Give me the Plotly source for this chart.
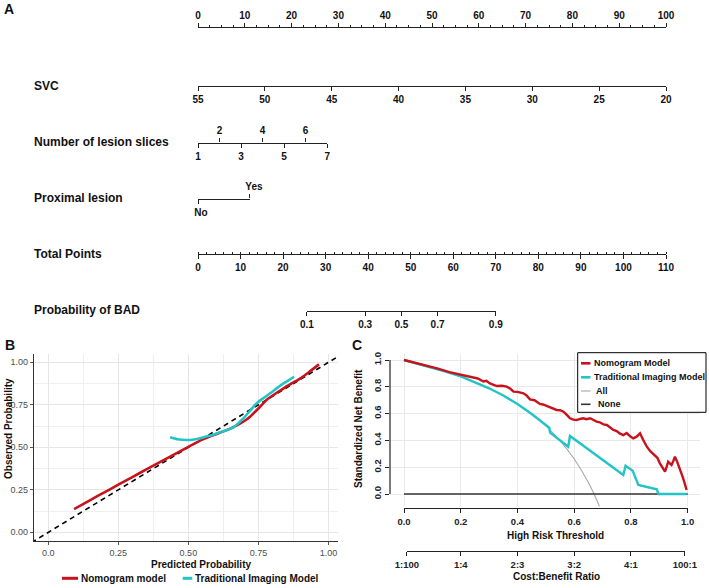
import plotly.graph_objects as go

W, H = 709, 588
FONT = "Liberation Sans, Arial, Helvetica, sans-serif"
AX = "#222222"
RED = "#c8121c"
CYAN = "#22c4c8"

# ---------------- data ----------------
# Panel A: nomogram
points_ticks = list(range(0, 101, 10))
svc_ticks = [55, 50, 45, 40, 35, 30, 25, 20]
slice_odd = [1, 3, 5, 7]
slice_even = [2, 4, 6]
slice_points_max = 27.6          # points for 7 slices (1 slice = 0 points)
proximal_levels = ["No", "Yes"]
proximal_points = [0.0, 11.1]
total_points_max = 110
prob_labels = ["0.1", "0.3", "0.5", "0.7", "0.9"]
prob_total_points = [25.6, 39.3, 47.8, 56.3, 70.0]

# Panel B: calibration curves
cal_nomo_x = [0.092, 0.15, 0.20, 0.25, 0.30, 0.35, 0.40, 0.45, 0.50, 0.55, 0.60, 0.65,
              0.70, 0.72, 0.756, 0.78, 0.81, 0.84, 0.87, 0.90, 0.93, 0.966]
cal_nomo_y = [0.137, 0.190, 0.235, 0.280, 0.325, 0.370, 0.414, 0.459, 0.503, 0.545, 0.578, 0.610,
              0.655, 0.680, 0.739, 0.780, 0.815, 0.847, 0.877, 0.906, 0.942, 0.988]
cal_trad_x = [0.435, 0.46, 0.494, 0.52, 0.542, 0.57, 0.601, 0.63, 0.661, 0.696, 0.72, 0.744,
              0.77, 0.792, 0.815, 0.839, 0.86, 0.877]
cal_trad_y = [0.559, 0.548, 0.543, 0.546, 0.553, 0.566, 0.582, 0.598, 0.618, 0.670, 0.715, 0.759,
              0.792, 0.818, 0.847, 0.876, 0.897, 0.915]
diag_x = [-0.06, 1.06]

# Panel C: decision curves
dca_nomo_x = [0.0, 0.04, 0.08, 0.12, 0.16, 0.19, 0.20, 0.225, 0.244, 0.26, 0.28, 0.29, 0.303,
              0.315, 0.327, 0.345, 0.362, 0.375, 0.386, 0.40, 0.421, 0.432, 0.444, 0.46, 0.479,
              0.49, 0.50, 0.514, 0.526, 0.538, 0.55, 0.562, 0.574, 0.585, 0.597, 0.609, 0.62,
              0.632, 0.643, 0.656, 0.668, 0.679, 0.69, 0.703, 0.715, 0.726, 0.738, 0.75, 0.76,
              0.773, 0.785, 0.797, 0.808, 0.82, 0.832, 0.844, 0.856, 0.868, 0.878, 0.885, 0.893,
              0.902, 0.912, 0.92, 0.926, 0.931, 0.937, 0.943, 0.95, 0.955, 0.962, 0.972, 0.982,
              0.99, 0.996]
dca_nomo_y = [1.0, 0.98, 0.958, 0.935, 0.91, 0.895, 0.893, 0.878, 0.871, 0.862, 0.840, 0.845, 0.825,
              0.818, 0.806, 0.808, 0.801, 0.785, 0.764, 0.762, 0.751, 0.735, 0.706, 0.700, 0.672,
              0.668, 0.660, 0.652, 0.640, 0.627, 0.625, 0.614, 0.590, 0.565, 0.555, 0.552, 0.560,
              0.565, 0.558, 0.565, 0.552, 0.540, 0.535, 0.520, 0.515, 0.500, 0.478, 0.470, 0.452,
              0.440, 0.455, 0.430, 0.415, 0.428, 0.453, 0.400, 0.353, 0.320, 0.300, 0.279, 0.270,
              0.229, 0.195, 0.167, 0.205, 0.241, 0.228, 0.216, 0.250, 0.279, 0.245, 0.192, 0.130,
              0.075, 0.030]
dca_trad_x = [0.0, 0.05, 0.1, 0.15, 0.2, 0.25, 0.3, 0.35, 0.4, 0.45, 0.479, 0.50, 0.512, 0.515,
              0.579, 0.585, 0.773, 0.781, 0.806, 0.826, 0.891, 0.897, 0.996]
dca_trad_y = [1.0, 0.972, 0.943, 0.912, 0.877, 0.836, 0.789, 0.735, 0.672, 0.597, 0.553, 0.515,
              0.495, 0.458, 0.353, 0.433, 0.142, 0.211, 0.174, 0.067, 0.035, 0.0, 0.0]
dca_all_x = [0.0, 0.05, 0.1, 0.15, 0.2, 0.25, 0.3, 0.35, 0.4, 0.45, 0.5, 0.55, 0.6, 0.65, 0.69, 0.70]
dca_all_y = [1.0, 0.974, 0.945, 0.913, 0.877, 0.836, 0.789, 0.735, 0.672, 0.597, 0.508, 0.398,
             0.261, 0.085, -0.096, -0.149]
dca_none_x = [0.0, 1.0]
dca_none_y = [0.0, 0.0]
thr_ticks = [0.0, 0.2, 0.4, 0.6, 0.8, 1.0]
cb_ticks = [0.01, 0.2, 0.4, 0.6, 0.8, 0.99]
cb_labels = ["1:100", "1:4", "2:3", "3:2", "4:1", "100:1"]


# ---------------- helpers ----------------
def px(x):
    return x / W


def py(y):
    return 1 - y / H


NOMO_X0, NOMO_X1 = 198.0, 666.0


def pts_px(p):
    return NOMO_X0 + p * (NOMO_X1 - NOMO_X0) / 100.0


def tot_px(t):
    return NOMO_X0 + t * (NOMO_X1 - NOMO_X0) / total_points_max


fig = go.Figure()
layout = dict(template="none", width=W, height=H, autosize=False,
              margin=dict(l=0, r=0, t=0, b=0, pad=0, autoexpand=False),
              paper_bgcolor="white", plot_bgcolor="rgba(0,0,0,0)", showlegend=False,
              font=dict(family=FONT, size=10, color="#111"))
annotations = []
shapes = []

NOMO_TICKFONT = dict(family=FONT, size=10, color="#111", weight="bold")


def strip_axis(idx, x0, x1, ypix, side, rng, tickfont=NOMO_TICKFONT, **kw):
    d = 0.0008
    ydom = [py(ypix), py(ypix) + d] if side == "bottom" else [py(ypix) - d, py(ypix)]
    xa = dict(domain=[px(x0), px(x1)], range=rng, anchor=f"y{idx}", side=side,
              showline=True, linecolor=AX, linewidth=1.2, ticks="outside", ticklen=4,
              tickwidth=1.1, tickcolor=AX, showgrid=False, zeroline=False, automargin=False,
              tickfont=tickfont, fixedrange=True)
    xa.update(kw)
    layout[f"xaxis{idx}"] = xa
    layout[f"yaxis{idx}"] = dict(domain=ydom, range=[0, 1], anchor=f"x{idx}", visible=False,
                                 automargin=False, fixedrange=True)
    fig.add_trace(go.Scatter(x=[None], y=[None], xaxis=f"x{idx}", yaxis=f"y{idx}",
                             mode="lines", showlegend=False, hoverinfo="skip"))


def label(text, x, y, size=10, anchor="left", angle=0, color="#111"):
    annotations.append(dict(text=text, x=px(x), y=py(y), xref="paper", yref="paper",
                            showarrow=False, xanchor=anchor, yanchor="middle", textangle=angle,
                            borderpad=0, font=dict(family=FONT, size=size, color=color)))


# ---------------- Panel B: calibration ----------------
fig.add_trace(go.Scatter(x=diag_x, y=diag_x, mode="lines", xaxis="x", yaxis="y",
                         line=dict(color="black", width=1.6, dash="5px,4px"), hoverinfo="skip"))
fig.add_trace(go.Scatter(x=cal_nomo_x, y=cal_nomo_y, mode="lines", xaxis="x", yaxis="y",
                         line=dict(color=RED, width=2.6, shape="spline", smoothing=0.6),
                         hoverinfo="skip"))
fig.add_trace(go.Scatter(x=cal_trad_x, y=cal_trad_y, mode="lines", xaxis="x", yaxis="y",
                         line=dict(color=CYAN, width=2.6, shape="spline", smoothing=0.6),
                         hoverinfo="skip"))
B_TICKFONT = dict(family=FONT, size=9, color="#4d4d4d")
layout["xaxis"] = dict(domain=[px(34), px(338)], range=[-0.051, 1.034], anchor="y",
                       tickmode="array", tickvals=[0, 0.25, 0.5, 0.75, 1.0],
                       ticktext=["0.0", "0.25", "0.50", "0.75", "1.00"], automargin=False,
                       showline=True, linecolor="#333", linewidth=1.4, ticks="outside", ticklen=3,
                       tickcolor="#555", tickfont=B_TICKFONT, showgrid=True, gridcolor="#e6e6e6",
                       gridwidth=1, zeroline=False, fixedrange=True,
                       minor=dict(tickmode="linear", tick0=0.125, dtick=0.25, showgrid=True,
                                  gridcolor="#efefef", ticks=""))
layout["yaxis"] = dict(domain=[py(541), py(354)], range=[-0.051, 1.049], anchor="x",
                       tickmode="array", tickvals=[0, 0.25, 0.5, 0.75, 1.0],
                       ticktext=["0.00", "0.25", "0.50", "0.75", "1.00"], automargin=False,
                       showline=True, linecolor="#333", linewidth=1.4, ticks="outside", ticklen=3,
                       tickcolor="#555", tickfont=B_TICKFONT, showgrid=True, gridcolor="#e6e6e6",
                       gridwidth=1, zeroline=False, fixedrange=True,
                       minor=dict(tickmode="linear", tick0=0.125, dtick=0.25, showgrid=True,
                                  gridcolor="#efefef", ticks=""))
label("<b>Predicted Probability</b>", 201, 564, size=10, anchor="center")
label("<b>Observed Probability</b>", 8, 429, size=10, anchor="center", angle=-90)
# legend B
shapes.append(dict(type="line", xref="paper", yref="paper", x0=px(62), x1=px(78), y0=py(578.3),
                   y1=py(578.3), line=dict(color=RED, width=3)))
label("<b>Nomogram model</b>", 80, 578.3, size=10)
shapes.append(dict(type="line", xref="paper", yref="paper", x0=px(182.7), x1=px(192.3),
                   y0=py(578.3), y1=py(578.3), line=dict(color=CYAN, width=3)))
label("<b>Traditional Imaging Model</b>", 194.3, 578.3, size=10)

# ---------------- Panel C: decision curves ----------------
fig.add_trace(go.Scatter(x=dca_all_x, y=dca_all_y, mode="lines", xaxis="x2", yaxis="y2",
                         line=dict(color="#a6a6a6", width=1.1, shape="spline", smoothing=0.5),
                         hoverinfo="skip"))
fig.add_trace(go.Scatter(x=dca_none_x, y=dca_none_y, mode="lines", xaxis="x2", yaxis="y2",
                         line=dict(color="#333", width=1.6), hoverinfo="skip"))
fig.add_trace(go.Scatter(x=dca_trad_x, y=dca_trad_y, mode="lines", xaxis="x2", yaxis="y2",
                         line=dict(color=CYAN, width=2.4), hoverinfo="skip"))
fig.add_trace(go.Scatter(x=dca_nomo_x, y=dca_nomo_y, mode="lines", xaxis="x2", yaxis="y2",
                         line=dict(color=RED, width=2.4), hoverinfo="skip"))
C_TICKFONT = dict(family=FONT, size=9.5, color="#222", weight="bold")
C_X0, C_X1 = 404.0, 687.7          # pixel position of threshold 0 and 1
C_Y0, C_Y1 = 494.0, 360.0          # pixel position of net benefit 0 and 1
cxs = (C_X1 - C_X0)
cys = (C_Y0 - C_Y1)
c_left, c_right = 390.0, 699.6
c_top, c_bot = 354.4, 506.3
layout["xaxis2"] = dict(domain=[px(c_left), px(c_right)],
                        range=[(c_left - C_X0) / cxs, (c_right - C_X0) / cxs], anchor="y2",
                        tickmode="array", tickvals=thr_ticks, showticklabels=False, ticks="",
                        showline=False, showgrid=True, gridcolor="#e9e9e9", zeroline=False,
                        automargin=False, fixedrange=True)
layout["yaxis2"] = dict(domain=[py(c_bot), py(c_top)],
                        range=[(C_Y0 - c_bot) / cys, (C_Y0 - c_top) / cys], anchor="x2",
                        tickmode="array", tickvals=thr_ticks,
                        ticktext=[f"{v:.1f}" for v in thr_ticks], tickangle=-90,
                        ticks="outside", ticklen=4, tickcolor=AX, tickwidth=1.1,
                        tickfont=C_TICKFONT, showline=False, showgrid=True, gridcolor="#e9e9e9",
                        zeroline=False, automargin=False, fixedrange=True)
shapes.append(dict(type="line", xref="paper", yref="y2", x0=px(c_left), x1=px(c_left), y0=0,
                   y1=1, line=dict(color=AX, width=1.2)))
strip_axis(3, C_X0, C_X1, 508.3, "bottom", [0, 1], tickfont=C_TICKFONT,
           tickmode="array", tickvals=thr_ticks, ticktext=[f"{v:.1f}" for v in thr_ticks])
cb0 = C_X0 + cb_ticks[0] * cxs
cb1 = C_X0 + cb_ticks[-1] * cxs
strip_axis(4, cb0, cb1, 551, "bottom", [cb_ticks[0], cb_ticks[-1]], tickfont=C_TICKFONT,
           tickmode="array", tickvals=cb_ticks, ticktext=cb_labels)
label("<b>High Risk Threshold</b>", 555.5, 535, size=10, anchor="center")
label("<b>Cost:Benefit Ratio</b>", 556, 576.7, size=10, anchor="center")
label("<b>Standardized Net Benefit</b>", 358, 429, size=10, anchor="center", angle=-90)
# legend C
shapes.append(dict(type="rect", xref="paper", yref="paper", x0=px(577.7), x1=px(706),
                   y0=py(412.3), y1=py(352.7), line=dict(color="black", width=1),
                   fillcolor="white"))
leg_items = [("Nomogram Model", RED, 2.6, 363.3, 593.3),
             ("Traditional Imaging Model", CYAN, 2.6, 377.3, 593.3),
             ("All", "#a6a6a6", 1.1, 391.0, 595.0),
             ("None", "#333", 1.6, 404.3, 597.0)]
for name, col, wid, yy, xt in leg_items:
    shapes.append(dict(type="line", xref="paper", yref="paper", x0=px(581), x1=px(590.5),
                       y0=py(yy), y1=py(yy), line=dict(color=col, width=wid)))
    label(f"<b>{name}</b>", xt, yy, size=9)

# ---------------- Panel A: nomogram ----------------
strip_axis(5, pts_px(0), pts_px(100), 28.3, "top", [0, 100], tickmode="linear", tick0=0, dtick=10,
           minor=dict(tickmode="linear", tick0=0, dtick=2.5, ticks="outside", ticklen=2,
                      tickcolor=AX, tickwidth=1))
strip_axis(6, pts_px(0), pts_px(100), 85.7, "bottom", [svc_ticks[0], svc_ticks[-1]],
           tickmode="array", tickvals=svc_ticks, ticktext=[str(v) for v in svc_ticks])
sl_x1 = pts_px(slice_points_max)
strip_axis(7, pts_px(0), sl_x1, 143.3, "bottom", [1, 7], tickmode="array", tickvals=slice_odd,
           ticktext=[str(v) for v in slice_odd])
strip_axis(8, pts_px(0), sl_x1, 143.3, "top", [1, 7], tickmode="array", tickvals=slice_even,
           ticktext=[str(v) for v in slice_even], showline=False)
pr_x1 = pts_px(proximal_points[1])
strip_axis(9, pts_px(proximal_points[0]), pr_x1, 199.0, "bottom", [0, 1], tickmode="array",
           tickvals=[0], ticktext=[proximal_levels[0]], ticklabelshift=3)
strip_axis(10, pts_px(proximal_points[0]), pr_x1, 199.0, "top", [0, 1], tickmode="array",
           tickvals=[1], ticktext=[proximal_levels[1]], showline=False, ticklabelshift=4)
strip_axis(11, tot_px(0), tot_px(total_points_max), 254.0, "bottom", [0, total_points_max],
           tickmode="linear", tick0=0, dtick=10,
           minor=dict(tickmode="linear", tick0=0, dtick=2, ticks="inside", ticklen=2,
                      tickcolor=AX, tickwidth=1))
strip_axis(12, tot_px(prob_total_points[0]), tot_px(prob_total_points[-1]), 310.7, "bottom",
           [prob_total_points[0], prob_total_points[-1]], tickmode="array",
           tickvals=prob_total_points, ticktext=prob_labels)

row_labels = [("SVC", 86), ("Number of lesion slices", 142.5), ("Proximal lesion", 197.5),
              ("Total Points", 254), ("Probability of BAD", 310)]
for t, yy in row_labels:
    label(f"<b>{t}</b>", 33, yy, size=12)

label("<b>A</b>", 3, 9, size=14)
label("<b>B</b>", 4, 345, size=14)
label("<b>C</b>", 351, 345, size=14)

layout["annotations"] = annotations
layout["shapes"] = shapes
fig.update_layout(**layout)
fig.write_html("out.html")
